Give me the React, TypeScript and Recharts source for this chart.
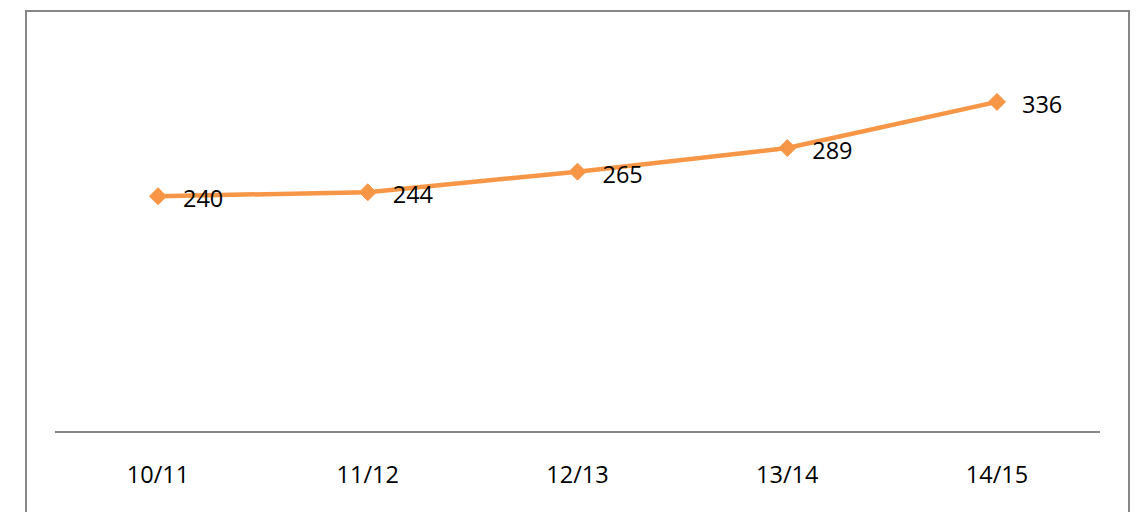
import { LineChart, Line, XAxis, YAxis, LabelList } from 'recharts'

const seasons = ['10/11', '11/12', '12/13', '13/14', '14/15']
const totals = [240, 244, 265, 289, 336]
const yDomain = [0, 400]

const data = seasons.map((season, i) => ({ season, total: totals[i] }))

const ORANGE = '#F79646'
const FONT = '"Open Sans", sans-serif'

const Diamond = (props: any) => {
  const { cx, cy } = props
  if (cx == null || cy == null) return null
  const r = 8.5
  return (
    <polygon
      points={`${cx},${cy - r} ${cx + r},${cy} ${cx},${cy + r} ${cx - r},${cy}`}
      fill={ORANGE}
      stroke={ORANGE}
      strokeWidth={1}
      strokeLinejoin='round'
    />
  )
}

const ValueLabel = (props: any) => {
  const { x, y, value } = props
  return (
    <text x={x + 25} y={y + 2} dominantBaseline='central' fill='#000' fontSize={23.5} fontFamily={FONT}>
      {value}
    </text>
  )
}

export default function App() {
  return (
    <div style={{ position: 'absolute', left: 0, top: 0, width: 1136, height: 512, background: '#fff', overflow: 'hidden' }}>
      <div
        style={{
          position: 'absolute',
          left: 25,
          top: 10,
          width: 1101,
          height: 520,
          border: '2px solid #868686',
        }}
      />
      <div style={{ position: 'absolute', left: 0, top: 0 }}>
        <LineChart width={1136} height={512} data={data} margin={{ top: 39, right: 36, bottom: 20, left: 0 }}>
          <XAxis
            dataKey='season'
            height={60}
            padding={{ left: 103, right: 103 }}
            axisLine={{ stroke: '#888888', strokeWidth: 2 }}
            tickLine={false}
            tickSize={0}
            tickMargin={34}
            tick={{ fill: '#000', fontSize: 23.5, fontFamily: FONT }}
          />
          <YAxis domain={yDomain} width={55} axisLine={false} tickLine={false} tick={false} />
          <Line
            dataKey='total'
            stroke={ORANGE}
            strokeWidth={4.5}
            dot={<Diamond />}
            activeDot={false}
            isAnimationActive={false}
          >
            <LabelList dataKey='total' content={<ValueLabel />} />
          </Line>
        </LineChart>
      </div>
    </div>
  )
}
